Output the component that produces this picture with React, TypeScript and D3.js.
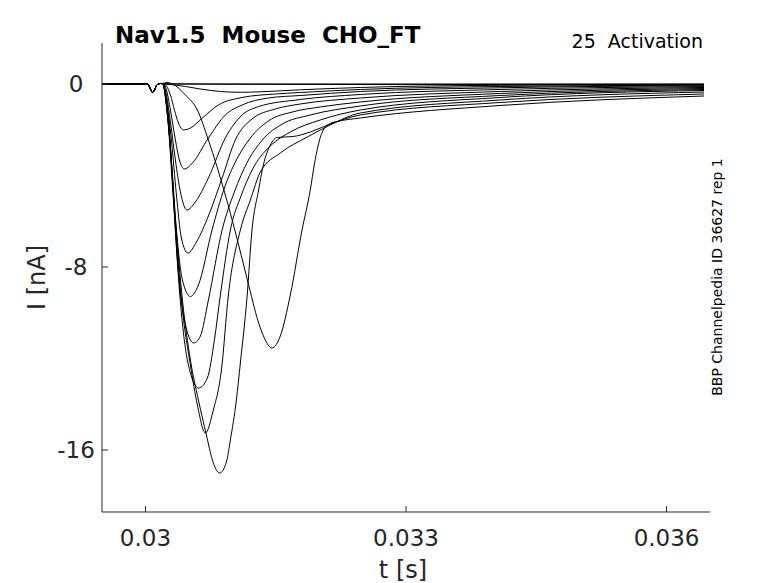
import React from 'react';
import * as d3 from 'd3';

const width = 778;
const height = 583;

// time in ms, current in nA
const preStepT = [29.505, 30.023, 30.052, 30.081, 30.104, 30.127, 30.15, 30.173];
const preStepI = [0, 0, -0.175, -0.372, -0.262, -0.066, 0, 0.022];

const flatAT = [30.196, 36.431];
const flatAI = [0, 0];
const flatBT = [30.196, 31.208, 32.934, 36.431];
const flatBI = [0.01, -0.013, -0.026, -0.013];

const sweep0T = [30.196, 30.288, 30.46, 30.633, 30.863, 31.093, 31.323, 31.783, 32.474, 34.084, 36.431];
const sweep0I = [0, -0.022, -0.109, -0.219, -0.328, -0.363, -0.341, -0.254, -0.153, -0.057, -0.026];

const sweep1T = [30.196, 30.242, 30.288, 30.334, 30.38, 30.437, 30.518, 30.652, 30.84, 31.113, 31.496, 31.783, 32.474, 34.084, 36.431];
const sweep1I = [0.022, -0.087, -0.481, -1.137, -1.705, -2.011, -1.924, -1.499, -0.918, -0.59, -0.437, -0.372, -0.24, -0.109, -0.052];

const sweep2T = [30.196, 30.242, 30.288, 30.345, 30.391, 30.449, 30.541, 30.725, 30.92, 31.113, 31.415, 31.783, 32.474, 34.084, 36.431];
const sweep2I = [0.022, -0.262, -1.137, -2.448, -3.322, -3.716, -3.454, -2.361, -1.355, -0.918, -0.612, -0.503, -0.328, -0.166, -0.079];

const sweep3T = [30.196, 30.242, 30.288, 30.345, 30.403, 30.477, 30.575, 30.725, 30.92, 31.113, 31.3, 31.783, 32.474, 34.084, 36.431];
const sweep3I = [0.022, -0.481, -1.661, -3.322, -4.721, -5.508, -5.159, -4.109, -2.361, -1.355, -0.992, -0.678, -0.459, -0.24, -0.114];

const sweep4T = [30.196, 30.242, 30.299, 30.357, 30.414, 30.489, 30.587, 30.725, 30.883, 31.035, 31.227, 31.496, 31.783, 32.474, 34.084, 36.431];
const sweep4I = [0.022, -0.699, -2.448, -4.852, -6.732, -7.388, -6.907, -5.77, -4.109, -2.448, -1.53, -1.093, -0.874, -0.612, -0.328, -0.153];

const sweep5T = [30.196, 30.242, 30.299, 30.357, 30.426, 30.518, 30.61, 30.767, 30.909, 31.047, 31.208, 31.415, 31.691, 32.013, 32.474, 34.084, 36.431];
const sweep5I = [0.022, -0.918, -3.322, -6.383, -8.568, -9.29, -8.786, -6.383, -4.546, -3.322, -2.361, -1.617, -1.224, -1.005, -0.787, -0.415, -0.197];

const sweep6T = [30.196, 30.253, 30.311, 30.368, 30.449, 30.556, 30.633, 30.725, 30.883, 31.024, 31.174, 31.346, 31.576, 31.898, 32.474, 34.084, 36.431];
const sweep6I = [0.022, -1.137, -4.197, -7.694, -10.317, -11.322, -11.016, -9.443, -6.383, -4.721, -3.41, -2.448, -1.749, -1.355, -0.962, -0.503, -0.24];

const sweep7T = [30.196, 30.253, 30.322, 30.391, 30.483, 30.613, 30.713, 30.794, 30.863, 30.978, 31.105, 31.254, 31.438, 31.668, 32.013, 32.474, 34.084, 36.431];
const sweep7I = [0.022, -1.355, -5.071, -9.005, -12.066, -13.29, -12.853, -11.192, -9.224, -6.383, -4.852, -3.585, -2.71, -2.098, -1.574, -1.137, -0.59, -0.284];

const sweep8T = [30.196, 30.265, 30.334, 30.414, 30.518, 30.598, 30.69, 30.782, 30.875, 30.955, 31.093, 31.208, 31.323, 31.553, 31.864, 32.128, 32.474, 34.084, 36.431];
const sweep8I = [0.022, -1.574, -5.508, -9.443, -12.284, -14.033, -15.257, -14.251, -12.503, -9.224, -6.383, -5.071, -3.847, -3.016, -2.317, -1.792, -1.268, -0.699, -0.35];

const sweep9T = [30.196, 30.265, 30.345, 30.426, 30.518, 30.61, 30.702, 30.771, 30.855, 30.932, 30.978, 31.047, 31.093, 31.17, 31.227, 31.303, 31.358, 31.438, 31.519, 31.703, 31.898, 32.128, 32.474, 34.084, 36.431];
const sweep9I = [0.022, -1.792, -5.945, -9.443, -12.066, -13.814, -15.344, -16.437, -17.005, -16.525, -15.563, -13.814, -12.197, -9.311, -6.383, -4.634, -3.541, -2.667, -2.339, -2.295, -2.098, -1.749, -1.355, -0.809, -0.437];

const sweep10T = [30.196, 30.242, 30.311, 30.46, 30.598, 30.725, 30.92, 31.035, 31.174, 31.3, 31.369, 31.458, 31.553, 31.668, 31.803, 31.898, 31.944, 31.99, 32.036, 32.128, 32.209, 32.474, 34.084, 36.431];
const sweep10I = [0.022, 0.066, 0, -0.481, -1.137, -2.448, -4.852, -6.47, -8.568, -10.404, -11.104, -11.541, -11.016, -9.224, -6.383, -4.634, -3.541, -2.667, -2.098, -1.727, -1.639, -1.486, -0.94, -0.525];

const sweepsT = [flatAT, flatBT, sweep0T, sweep1T, sweep2T, sweep3T, sweep4T, sweep5T, sweep6T, sweep7T, sweep8T, sweep9T, sweep10T];
const sweepsI = [flatAI, flatBI, sweep0I, sweep1I, sweep2I, sweep3I, sweep4I, sweep5I, sweep6I, sweep7I, sweep8I, sweep9I, sweep10I];

const xTicks = [0.03, 0.033, 0.036];
const yTicks = [0, -8, -16];

const titleText = 'Nav1.5  Mouse  CHO_FT';
const protocolText = '25  Activation';
const sideText = 'BBP Channelpedia ID 36627 rep 1';

const axisColor = '#262626';
const font = '"DejaVu Sans", sans-serif';

const App = () => {
    const left = 102;
    const right = 710;
    const top = 43;
    const bottom = 512;

    const xScale = d3.scaleLinear().domain([0.0295, 0.0365]).range([left, right]);
    const yScale = d3.scaleLinear().domain([1.792, -18.71]).range([top, bottom]);

    const line = d3
        .line<[number, number]>()
        .x((d) => xScale(d[0] / 1000))
        .y((d) => yScale(d[1]))
        .curve(d3.curveMonotoneX);

    const paths = sweepsT.map((ts, k) => {
        const pts: [number, number][] = preStepT.map((t, j) => [t, preStepI[j]]);
        ts.forEach((t, j) => pts.push([t, sweepsI[k][j]]));
        return line(pts) || '';
    });

    return (
        <div style={{ position: 'fixed', left: 0, top: 0 }}>
            <svg width={width} height={height} style={{ display: 'block', background: '#fff' }}>
                {paths.map((d, k) => (
                    <path key={k} d={d} fill="none" stroke="#000" strokeWidth={1} />
                ))}

                {/* axes */}
                <line x1={left} x2={left} y1={top} y2={bottom} stroke={axisColor} strokeWidth={1} />
                <line x1={left} x2={right} y1={bottom} y2={bottom} stroke={axisColor} strokeWidth={1} />

                {xTicks.map((t) => (
                    <g key={t}>
                        <line x1={xScale(t)} x2={xScale(t)} y1={bottom} y2={bottom - 6} stroke={axisColor} />
                        <text x={xScale(t)} y={546} textAnchor="middle" fontFamily={font} fontSize={23} fill={axisColor}>
                            {t}
                        </text>
                    </g>
                ))}
                {yTicks.map((v) => (
                    <g key={v}>
                        <line x1={left} x2={left + 6} y1={yScale(v)} y2={yScale(v)} stroke={axisColor} />
                        <text x={76} y={yScale(v) + 8} textAnchor="middle" fontFamily={font} fontSize={23} fill={axisColor}>
                            {v}
                        </text>
                    </g>
                ))}

                <text x={403} y={578} textAnchor="middle" fontFamily={font} fontSize={24} fill={axisColor}>
                    t [s]
                </text>
                <text
                    transform={`translate(45, ${(top + bottom) / 2}) rotate(-90)`}
                    textAnchor="middle"
                    fontFamily={font}
                    fontSize={24}
                    fill={axisColor}
                >
                    I [nA]
                </text>

                <text x={115} y={43} fontFamily={font} fontSize={23} fontWeight="bold" fill="#000" style={{ whiteSpace: 'pre' }}>
                    {titleText}
                </text>
                <text x={703} y={48} textAnchor="end" fontFamily={font} fontSize={19} fill="#000" style={{ whiteSpace: 'pre' }}>
                    {protocolText}
                </text>
                <text
                    transform={`translate(722, 277) rotate(-90)`}
                    textAnchor="middle"
                    fontFamily={font}
                    fontSize={14}
                    fill="#000"
                >
                    {sideText}
                </text>
            </svg>
        </div>
    );
};

export default App;
